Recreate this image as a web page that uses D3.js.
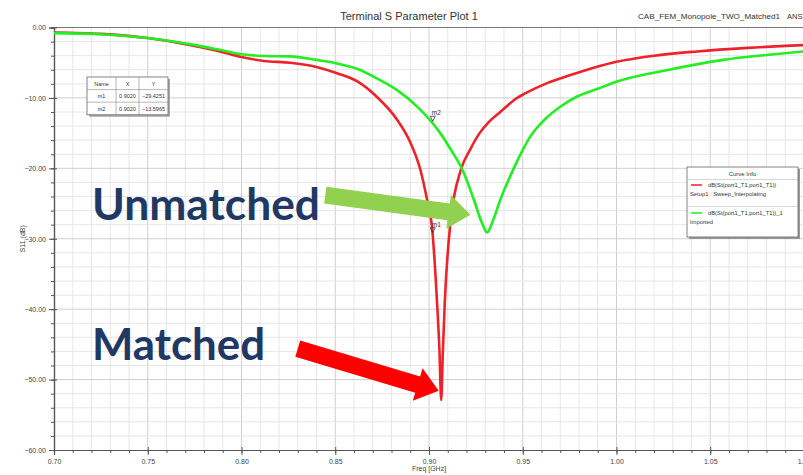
<!DOCTYPE html>
<html>
<head>
<meta charset="utf-8">
<script src="https://cdn.jsdelivr.net/npm/d3@7"></script>
<style>
body { margin: 0; background: #fff; }
svg { display: block; font-family: "Liberation Sans", Arial, sans-serif; }
</style>
</head>
<body>
<div id="figzone"></div>
<script>
var width = 803, height = 475;

// Data
var freqRed = [0.700, 0.725, 0.750, 0.773, 0.787, 0.800, 0.812, 0.826, 0.840, 0.851, 0.862, 0.872, 0.883, 0.890, 0.8954, 0.899, 0.9016, 0.9043, 0.9056, 0.9065, 0.9074, 0.9084, 0.9114, 0.917, 0.922, 0.927, 0.932, 0.938, 0.947, 0.951, 0.963, 0.9755, 1.000, 1.020, 1.043, 1.070, 1.100];
var s11Red  = [-0.7, -0.9, -1.5, -2.5, -3.3, -4.2, -4.75, -5.0, -5.6, -6.5, -7.7, -9.8, -13.1, -16.3, -20.2, -24.5, -28.3, -39.1, -46.0, -52.9, -46.0, -39.1, -27.8, -20.2, -17.3, -15.0, -13.4, -12.0, -10.0, -9.4, -7.9, -6.75, -4.86, -4.0, -3.4, -2.9, -2.5];

var freqGreen = [0.700, 0.725, 0.750, 0.773, 0.787, 0.800, 0.812, 0.826, 0.840, 0.851, 0.862, 0.872, 0.883, 0.894, 0.902, 0.906, 0.912, 0.918, 0.924, 0.928, 0.931, 0.934, 0.938, 0.9435, 0.949, 0.954, 0.962, 0.970, 0.979, 0.990, 1.000, 1.028, 1.057, 1.080, 1.100];
var s11Green  = [-0.8, -0.95, -1.5, -2.4, -3.1, -3.8, -4.05, -4.1, -4.6, -5.1, -5.9, -7.2, -8.9, -11.3, -13.6, -15.0, -17.5, -20.3, -24.5, -27.6, -29.1, -27.5, -24.5, -21.0, -17.9, -15.5, -13.0, -11.25, -9.8, -8.7, -7.7, -6.0, -4.6, -3.9, -3.4];

var xTicks = [0.70, 0.75, 0.80, 0.85, 0.90, 0.95, 1.00, 1.05, 1.10];
var yTicks = [0, -10, -20, -30, -40, -50, -60];

var markerNames = ["m1", "m2"];
var markerX = [0.9020, 0.9020];
var markerY = [-29.4251, -13.5965];

var legendNames = ["dB(St(port1_T1,port1_T1))", "dB(St(port1_T1,port1_T1))_1"];
var legendSubs = ["Setup1 : Sweep_Interpolating", "Imported"];
var legendColors = ["#ee2229", "#22ee22"];

var svg = d3.select("#figzone").append("svg").attr("width", width).attr("height", height);

var x = d3.scaleLinear().domain([0.70, 1.10]).range([54, 804]);
var y = d3.scaleLinear().domain([-60, 0]).range([450, 27.5]);

// grid
var gGrid = svg.append("g").attr("class", "grid");
var minorX = d3.range(0.71, 1.0951, 0.01);
var minorY = d3.range(-58, -1, 2);
gGrid.selectAll("line.vx").data(minorX).enter().append("line")
    .attr("x1", function(d){return x(d);}).attr("x2", function(d){return x(d);})
    .attr("y1", y(0)).attr("y2", y(-60))
    .style("stroke", function(d){return Math.abs(d*20 - Math.round(d*20)) < 0.01 ? "#cfcfcf" : "#e6e6e6";})
    .style("stroke-width", 1);
gGrid.selectAll("line.hy").data(minorY).enter().append("line")
    .attr("y1", function(d){return y(d);}).attr("y2", function(d){return y(d);})
    .attr("x1", x(0.70)).attr("x2", x(1.10))
    .style("stroke", function(d){return d % 10 == 0 ? "#cfcfcf" : "#e6e6e6";})
    .style("stroke-width", 1);

// top frame
svg.append("line").attr("x1", x(0.70)).attr("x2", width).attr("y1", y(0)).attr("y2", y(0))
    .style("stroke", "#777").style("stroke-width", 1.2);

// axes
var yMinor = svg.append("g").attr("transform", "translate(" + x(0.70) + ",0)")
    .call(d3.axisLeft(y).tickValues(d3.range(-60, 1, 2)).tickSize(3).tickFormat(""));
var yMajor = svg.append("g").attr("transform", "translate(" + x(0.70) + ",0)")
    .call(d3.axisLeft(y).tickValues(yTicks).tickSize(5).tickPadding(3).tickFormat(d3.format(".2f")));
var xMinor = svg.append("g").attr("transform", "translate(0," + y(-60) + ")")
    .call(d3.axisBottom(x).tickValues(d3.range(0.70, 1.1001, 0.01)).tickSize(3).tickFormat(""));
var xMajor = svg.append("g").attr("transform", "translate(0," + y(-60) + ")")
    .call(d3.axisBottom(x).tickValues(xTicks).tickSize(5).tickPadding(4).tickFormat(d3.format(".2f")));

[yMinor, yMajor, xMinor, xMajor].forEach(function(g){
    g.select(".domain").style("stroke", "#555").style("stroke-width", 1.2);
    g.selectAll(".tick line").style("stroke", "#555");
    g.selectAll("text").style("font-size", "7px").style("fill", "#444")
        .style("font-family", "'Liberation Sans Narrow', 'Liberation Sans', Arial, sans-serif");
});
// ticks cross the axis line a little
yMajor.selectAll(".tick line").attr("x2", 3).attr("x1", -5);
xMajor.selectAll(".tick line").attr("y1", -3).attr("y2", 5);

svg.append("text").attr("transform", "translate(25," + y(-30) + ") rotate(-90)")
    .attr("text-anchor", "middle").style("font-size", "7px").style("fill", "#444")
    .text("S11 (dB)");
svg.append("text").attr("x", x(0.90)).attr("y", 471).attr("text-anchor", "middle")
    .style("font-size", "7px").style("fill", "#444").text("Freq [GHz]");

// titles
svg.append("text").attr("x", 409).attr("y", 20).attr("text-anchor", "middle")
    .style("font-size", "11px").style("fill", "#333").text("Terminal S Parameter Plot 1");
svg.append("text").attr("x", 638).attr("y", 19).attr("textLength", 142).attr("lengthAdjust", "spacingAndGlyphs")
    .style("font-size", "7.5px").style("fill", "#333").text("CAB_FEM_Monopole_TWO_Matched1");
svg.append("text").attr("x", 787).attr("y", 19)
    .style("font-size", "7.5px").style("fill", "#333").text("ANSYS");

// curves
var line = d3.line().x(function(d){return x(d[0]);}).y(function(d){return y(d[1]);})
    .curve(d3.curveMonotoneX);
var gLine = svg.append("g").attr("class", "lines");
gLine.append("path").datum(d3.zip(freqRed, s11Red)).attr("d", line)
    .style("fill", "none").style("stroke", legendColors[0]).style("stroke-width", 2.6);
gLine.append("path").datum(d3.zip(freqGreen, s11Green)).attr("d", line)
    .style("fill", "none").style("stroke", legendColors[1]).style("stroke-width", 2.6);

// markers
var gMark = svg.append("g").attr("class", "markers");
markerNames.forEach(function(m, i){
    var px = x(markerX[i]), py = y(markerY[i]);
    gMark.append("path").attr("d", "M" + (px - 2.5) + "," + (py - 7) + "L" + (px + 2.5) + "," + (py - 7) + "L" + px + "," + (py - 2) + "Z")
        .style("fill", "none").style("stroke", "#333").style("stroke-width", 0.8);
    gMark.append("text").attr("x", px - 1).attr("y", py - 8).style("font-size", "6.5px").style("fill", "#333").text(m);
});

// marker table
var tx = 87, ty = 77, colW = [29, 23, 29], rowH = 12.6;
var tbl = svg.append("g").attr("class", "table");
var tw = d3.sum(colW), th = rowH * 3;
tbl.append("rect").attr("x", tx + 2).attr("y", ty + 2).attr("width", tw).attr("height", th).style("fill", "#aaa");
tbl.append("rect").attr("x", tx).attr("y", ty).attr("width", tw).attr("height", th)
    .style("fill", "#fff").style("stroke", "#666").style("stroke-width", 0.8);
var rows = [["Name", "X", "Y"]].concat(markerNames.map(function(m, i){
    return [m, d3.format(".4f")(markerX[i]), d3.format(".4f")(markerY[i])];
}));
rows.forEach(function(r, ri){
    if (ri > 0) tbl.append("line").attr("x1", tx).attr("x2", tx + tw).attr("y1", ty + ri * rowH).attr("y2", ty + ri * rowH)
        .style("stroke", "#888").style("stroke-width", 0.6);
    var cx = tx;
    r.forEach(function(c, ci){
        if (ri == 0 && ci > 0) tbl.append("line").attr("x1", cx).attr("x2", cx).attr("y1", ty).attr("y2", ty + th)
            .style("stroke", "#888").style("stroke-width", 0.6);
        tbl.append("text").attr("x", cx + colW[ci] / 2).attr("y", ty + ri * rowH + 8.5).attr("text-anchor", "middle")
            .style("font-size", "5.5px").style("fill", "#333").text(c);
        cx += colW[ci];
    });
});

// legend
var lx = 687, ly = 167, lw = 111, lh = 70;
var leg = svg.append("g").attr("class", "legend");
leg.append("rect").attr("x", lx + 2).attr("y", ly + 2).attr("width", lw).attr("height", lh).style("fill", "#999");
leg.append("rect").attr("x", lx).attr("y", ly).attr("width", lw).attr("height", lh)
    .style("fill", "#fff").style("stroke", "#666").style("stroke-width", 0.8);
leg.append("text").attr("x", lx + lw / 2).attr("y", ly + 9).attr("text-anchor", "middle")
    .style("font-size", "6px").style("fill", "#333").text("Curve Info");
leg.append("line").attr("x1", lx).attr("x2", lx + lw).attr("y1", ly + 12.5).attr("y2", ly + 12.5).style("stroke", "#bbb").style("stroke-width", 0.6);
leg.append("line").attr("x1", lx).attr("x2", lx + lw).attr("y1", ly + 39.5).attr("y2", ly + 39.5).style("stroke", "#bbb").style("stroke-width", 0.6);
legendNames.forEach(function(n, i){
    var yy = ly + 18 + i * 28;
    leg.append("line").attr("x1", lx + 4).attr("x2", lx + 15).attr("y1", yy).attr("y2", yy)
        .style("stroke", legendColors[i]).style("stroke-width", 1.5);
    leg.append("text").attr("x", lx + 21).attr("y", yy + 2).style("font-size", "5.8px").style("fill", "#333").text(n);
    leg.append("text").attr("x", lx + 3).attr("y", yy + 11).style("font-size", "5.8px").style("fill", "#333").text(legendSubs[i]);
});

// annotations (arrows placed in data coordinates)
var arrows = [
    {from: [0.8447, -23.8], to: [0.9221, -26.6], color: "#92d050"},
    {from: [0.8300, -45.6], to: [0.9052, -51.6], color: "#ff0000"}
];
var gAnn = svg.append("g").attr("class", "annotations");
arrows.forEach(function(a){
    var x0 = x(a.from[0]), y0 = y(a.from[1]), x1 = x(a.to[0]), y1 = y(a.to[1]);
    var len = Math.hypot(x1 - x0, y1 - y0), ang = Math.atan2(y1 - y0, x1 - x0) * 180 / Math.PI;
    var sw = 8.5, hw = 17, hl = 22;
    var pts = [[0, -sw], [len - hl, -sw], [len - hl, -hw], [len, 0], [len - hl, hw], [len - hl, sw], [0, sw]];
    gAnn.append("path").attr("d", "M" + pts.map(function(p){return p.join(",");}).join("L") + "Z")
        .attr("transform", "translate(" + x0 + "," + y0 + ") rotate(" + ang + ")")
        .style("fill", a.color);
});
gAnn.append("text").attr("x", 92).attr("y", 220).attr("textLength", 228).attr("lengthAdjust", "spacingAndGlyphs")
    .style("font-family", "Lato, 'Open Sans', sans-serif").style("font-weight", "bold").style("font-size", "44px")
    .style("fill", "#1f3864").text("Unmatched");
gAnn.append("text").attr("x", 92).attr("y", 360).attr("textLength", 173).attr("lengthAdjust", "spacingAndGlyphs")
    .style("font-family", "Lato, 'Open Sans', sans-serif").style("font-weight", "bold").style("font-size", "44px")
    .style("fill", "#1f3864").text("Matched");
</script>
</body>
</html>
